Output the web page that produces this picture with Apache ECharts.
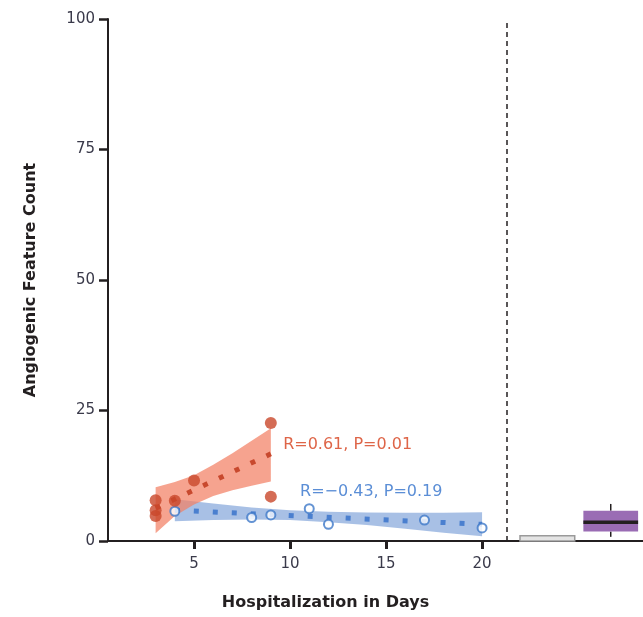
<!DOCTYPE html>
<html>
<head>
<meta charset="utf-8">
<script src="https://cdn.jsdelivr.net/npm/echarts@6/dist/echarts.min.js"></script>
<style>
  html, body { margin: 0; padding: 0; background: #fff; }
  #chart { width: 643px; height: 617px; }
</style>
</head>
<body>
<div id="chart"></div>
<script>
// red group (filled dots)
const redDays = [3, 3, 3, 4, 5, 9, 9];
const redCounts = [7.8, 5.9, 4.8, 7.7, 11.6, 22.6, 8.5];
const redFitDays = [3, 9];
const redFit = [6.3, 16.7];
const redBandDays = [3, 4, 5, 6, 7, 8, 9];
const redBandUpper = [10.3, 11.3, 12.6, 14.6, 16.8, 19.2, 21.6];
const redBandLower = [1.5, 4.8, 7.0, 8.6, 9.7, 10.6, 11.4];

// blue group (open circles)
const blueDays = [4, 8, 9, 11, 12, 17, 20];
const blueCounts = [5.7, 4.5, 5.0, 6.2, 3.2, 4.0, 2.5];
const blueFitDays = [4, 20];
const blueFit = [5.9, 3.2];
const blueBandDays = [4, 6, 8, 10, 12, 14, 16, 18, 20];
const blueBandUpper = [8.0, 7.2, 6.4, 5.9, 5.6, 5.45, 5.4, 5.4, 5.5];
const blueBandLower = [3.8, 4.0, 4.1, 4.0, 3.6, 3.05, 2.35, 1.6, 0.9];

// boxes to the right of the dashed line: [center, min, q1, median, q3, max]
const boxes = [
  [23.4, 0, 0, 0.2, 1.0, 1.0],
  [26.7, 0.8, 1.8, 3.6, 5.8, 7.1]
];
const boxWidthDays = 2.85;
const dividerDay = 21.3;

const xTicks = [5, 10, 15, 20];
const yTicks = [0, 25, 50, 75, 100];

const redText = 'R=0.61, P=0.01';
const blueText = 'R=\u22120.43, P=0.19';

const font = '"DejaVu Sans", "Open Sans", sans-serif';
const chart = echarts.init(document.getElementById('chart'));

function zip(xs, ys) {
  return xs.map((x, i) => [x, ys[i]]);
}

function bandSeries(days, upper, lower, color) {
  return {
    type: 'custom',
    silent: true,
    data: [0],
    z: 1,
    renderItem: (params, api) => {
      const pts = [];
      days.forEach((d, i) => pts.push(api.coord([d, upper[i]])));
      for (let i = days.length - 1; i >= 0; i--) pts.push(api.coord([days[i], lower[i]]));
      return { type: 'polygon', shape: { points: pts }, style: { fill: color } };
    }
  };
}

chart.setOption({
  animation: false,
  backgroundColor: '#fff',
  grid: { left: 108, right: 0, top: 19, bottom: 76 },
  xAxis: {
    type: 'value',
    min: 0.52,
    max: 28.38,
    name: 'Hospitalization in Days',
    nameLocation: 'middle',
    nameGap: 54,
    nameTextStyle: { fontFamily: font, fontWeight: 'bold', fontSize: 16, color: '#231f20', padding: [0, 100, 0, 0] },
    axisLine: { onZero: false, lineStyle: { color: '#231f20', width: 2 } },
    axisTick: { customValues: xTicks, length: 8, lineStyle: { color: '#231f20', width: 3 } },
    axisLabel: { customValues: xTicks, margin: 16, fontFamily: font, fontSize: 15, color: '#3a3a4a' },
    splitLine: { show: false }
  },
  yAxis: {
    type: 'value',
    min: 0,
    max: 100,
    interval: 25,
    name: 'Angiogenic Feature Count',
    nameLocation: 'middle',
    nameGap: 69,
    nameTextStyle: { fontFamily: font, fontWeight: 'bold', fontSize: 16, color: '#231f20' },
    axisLine: { show: true, lineStyle: { color: '#231f20', width: 2 } },
    axisTick: { show: true, length: 9, lineStyle: { color: '#231f20', width: 2.5 } },
    axisLabel: { margin: 13, fontFamily: font, fontSize: 15, color: '#3a3a4a' },
    splitLine: { show: false }
  },
  series: [
    bandSeries(blueBandDays, blueBandUpper, blueBandLower, 'rgba(110,150,212,0.6)'),
    bandSeries(redBandDays, redBandUpper, redBandLower, 'rgba(242,128,100,0.72)'),
    {
      type: 'line',
      data: zip(blueFitDays, blueFit),
      symbol: 'none',
      z: 2,
      lineStyle: { color: '#4a7fcf', width: 5, type: [5, 14], cap: 'butt' },
      markLine: {
        silent: true,
        symbol: 'none',
        label: { show: false },
        lineStyle: { color: '#231f20', width: 1.5, type: [5, 4] },
        data: [{ xAxis: dividerDay }]
      }
    },
    {
      type: 'line',
      data: zip(redFitDays, redFit),
      symbol: 'none',
      z: 2,
      lineStyle: { color: '#c8492e', width: 5, type: [5, 12.5], cap: 'butt' }
    },
    {
      type: 'scatter',
      data: zip(blueDays, blueCounts),
      symbol: 'circle',
      symbolSize: 9,
      z: 3,
      itemStyle: { color: '#fff', borderColor: '#3d78c8', borderWidth: 2 }
    },
    {
      type: 'scatter',
      data: zip(redDays, redCounts),
      symbol: 'circle',
      symbolSize: 12,
      z: 4,
      itemStyle: { color: '#c9472b' }
    },
    {
      type: 'custom',
      silent: true,
      data: boxes,
      z: 3,
      renderItem: (params, api) => {
        const c = api.value(0);
        const w = api.size([boxWidthDays, 0])[0];
        const lo = api.coord([c, api.value(1)]);
        const q1 = api.coord([c, api.value(2)]);
        const med = api.coord([c, api.value(3)]);
        const q3 = api.coord([c, api.value(4)]);
        const hi = api.coord([c, api.value(5)]);
        const grey = params.dataIndex === 0;
        const children = [
          { type: 'line', shape: { x1: lo[0], y1: lo[1], x2: q1[0], y2: q1[1] }, style: { stroke: '#231f20', lineWidth: 1.5 } },
          { type: 'line', shape: { x1: q3[0], y1: q3[1], x2: hi[0], y2: hi[1] }, style: { stroke: '#231f20', lineWidth: 1.5 } },
          {
            type: 'rect',
            shape: { x: q3[0] - w / 2, y: q3[1], width: w, height: q1[1] - q3[1] },
            style: grey ? { fill: '#e4e4e4', stroke: '#9a9a9a', lineWidth: 1.5 } : { fill: '#9a6cb4' }
          }
        ];
        if (!grey) {
          children.push({ type: 'line', shape: { x1: med[0] - w / 2, y1: med[1], x2: med[0] + w / 2, y2: med[1] }, style: { stroke: '#231f20', lineWidth: 3.5 } });
        }
        return { type: 'group', children };
      }
    }
  ]
});

const redPos = chart.convertToPixel({ gridIndex: 0 }, [9.64, 18.4]);
const bluePos = chart.convertToPixel({ gridIndex: 0 }, [10.52, 9.4]);
chart.setOption({
  graphic: [
    { type: 'text', x: redPos[0], y: redPos[1], style: { text: redText, fill: '#de6548', font: '16px ' + font, textVerticalAlign: 'middle' } },
    { type: 'text', x: bluePos[0], y: bluePos[1], style: { text: blueText, fill: '#5b8ed6', font: '16px ' + font, textVerticalAlign: 'middle' } }
  ]
});

window.addEventListener('resize', () => {
  chart.resize();
});
</script>
</body>
</html>
